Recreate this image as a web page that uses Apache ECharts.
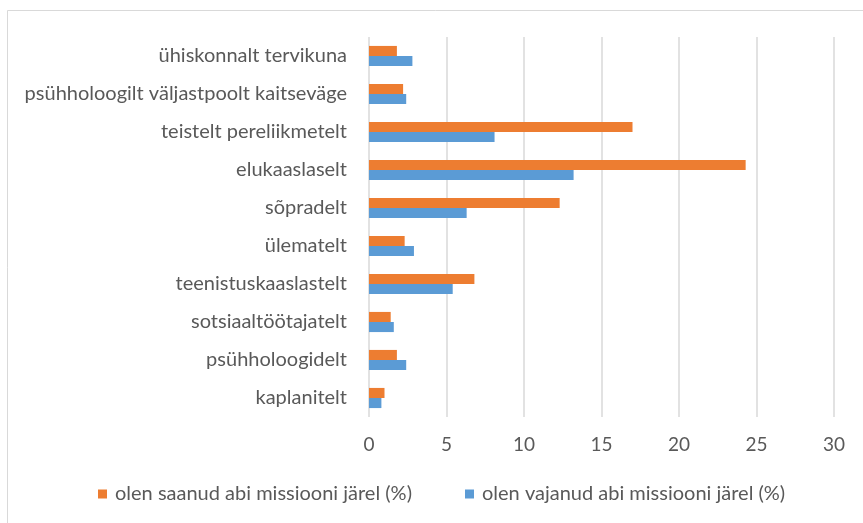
<!DOCTYPE html>
<html>
<head>
<meta charset="utf-8">
<script src="https://cdn.jsdelivr.net/npm/echarts@6/dist/echarts.min.js"></script>
<style>
html,body{margin:0;padding:0;background:#fff;}
#chart{width:863px;height:523px;}
</style>
</head>
<body>
<div id="chart"></div>
<script>
const categories = [
  "kaplanitelt",
  "psühholoogidelt",
  "sotsiaaltöötajatelt",
  "teenistuskaaslastelt",
  "ülematelt",
  "sõpradelt",
  "elukaaslaselt",
  "teistelt pereliikmetelt",
  "psühholoogilt väljastpoolt kaitseväge",
  "ühiskonnalt tervikuna"
];
const saanudName = "olen saanud abi missiooni järel (%)";
const vajanudName = "olen vajanud abi missiooni järel (%)";
const saanud = [1.0, 1.8, 1.4, 6.8, 2.3, 12.3, 24.3, 17.0, 2.2, 1.8];
const vajanud = [0.8, 2.4, 1.6, 5.4, 2.9, 6.3, 13.2, 8.1, 2.4, 2.8];
const xTicks = [0, 5, 10, 15, 20, 25, 30];

const FONT = "Lato";
const chart = echarts.init(document.getElementById('chart'), null, {renderer: 'canvas'});
chart.setOption({
  animation: false,
  backgroundColor: '#fff',
  graphic: [{
    type: 'rect',
    shape: {x: 7.5, y: 10.5, width: 900, height: 600},
    style: {fill: 'none', stroke: '#D9D9D9', lineWidth: 1},
    silent: true
  }],
  legend: {
    data: [saanudName, vajanudName],
    left: 98,
    top: 484,
    padding: 0,
    icon: 'rect',
    itemWidth: 9,
    itemHeight: 9,
    itemGap: 53,
    textStyle: {color: '#595959', fontFamily: FONT, fontSize: 20, padding: [0, 0, 0, 3]}
  },
  grid: {left: 369, right: 29, top: 37, bottom: 106, containLabel: false},
  xAxis: {
    type: 'value',
    min: xTicks[0],
    max: xTicks[xTicks.length - 1],
    interval: 5,
    axisLine: {show: false},
    axisTick: {show: false},
    axisLabel: {color: '#595959', fontFamily: FONT, fontSize: 19, margin: 18},
    splitLine: {show: true, lineStyle: {color: '#D9D9D9', width: 1.5}}
  },
  yAxis: {
    type: 'category',
    data: categories,
    axisLine: {show: false},
    axisTick: {show: false},
    axisLabel: {color: '#595959', fontFamily: FONT, fontSize: 20, margin: 22}
  },
  series: [
    {
      name: saanudName,
      type: 'bar',
      data: saanud,
      barGap: '0%',
      barCategoryGap: '47%',
      itemStyle: {color: '#ED7D31'}
    },
    {
      name: vajanudName,
      type: 'bar',
      data: vajanud,
      barGap: '0%',
      barCategoryGap: '47%',
      itemStyle: {color: '#5B9BD5'}
    }
  ]
});
</script>
</body>
</html>
